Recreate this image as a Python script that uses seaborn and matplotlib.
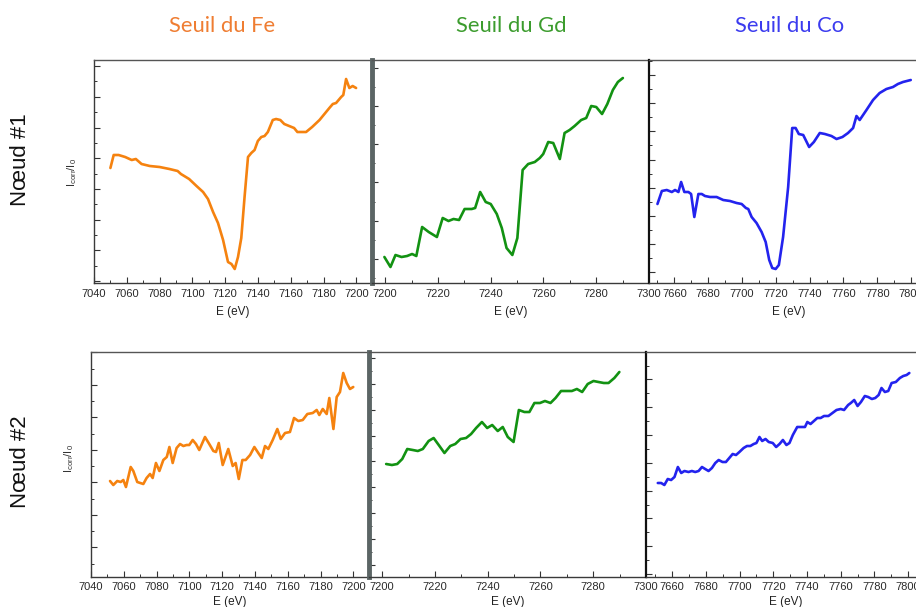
import numpy as np
import pandas as pd
import matplotlib
matplotlib.use("Agg")
import matplotlib.pyplot as plt
import seaborn as sns
from matplotlib import font_manager
from matplotlib.ticker import FixedLocator, MultipleLocator

# ---------------- data (intensity in arbitrary units) ----------------
col_titles = ["Seuil du Fe", "Seuil du Gd", "Seuil du Co"]
row_titles = ["N\u0153ud #1", "N\u0153ud #2"]

fe1_E = [7050, 7052, 7055, 7059, 7063, 7065.5, 7069, 7074, 7080, 7086,
         7091, 7093, 7098, 7102.5, 7106.5, 7109.5, 7112.6, 7115.6, 7118.7, 7121.7,
         7123.8, 7125.8, 7127.8, 7129.8, 7131.8, 7133.9, 7135.9, 7137.9, 7139.9, 7142,
         7144, 7146, 7149, 7151, 7153.6, 7156, 7159, 7162, 7164, 7169.3,
         7173, 7177.5, 7180.5, 7183.5, 7185.6, 7187.6, 7190.7, 7192, 7193.7, 7195.7,
         7197.7, 7199.8]
fe1_I = [115, 128, 128, 126, 123, 124, 119, 117, 116, 114,
         112, 109, 104, 97, 91, 84, 71, 60, 43, 21,
         19, 14, 26, 45, 86, 126, 130, 133, 142, 146,
         147, 151, 163, 164, 163, 159, 157, 155, 151, 151,
         156, 163, 169, 175, 179, 180, 186, 188, 204, 195,
         197, 195]

gd1_E = [7199.7, 7202, 7203.9, 7206.2, 7208.3, 7210.2, 7211.8, 7214, 7216.5, 7219.6,
         7221.8, 7224, 7225.9, 7228, 7230.1, 7232.8, 7234.1, 7236, 7238.1, 7240,
         7242.3, 7244.2, 7246, 7248.2, 7250.1, 7252.1, 7254.2, 7256.7, 7258.6, 7259.9,
         7261.8, 7263.7, 7266.2, 7268, 7269.9, 7271.8, 7274.3, 7276.2, 7278.1, 7280,
         7282.2, 7284.2, 7286.3, 7288.2, 7290.1]
gd1_I = [26, 16, 28, 26, 27, 29, 27, 56, 51, 46,
         65, 62, 64, 63, 74, 74, 75, 91, 81, 79,
         69, 55, 35, 28, 45, 113, 119, 121, 125, 129,
         141, 140, 124, 150, 153, 157, 163, 165, 177, 176,
         169, 179, 193, 201, 205]

co1_E = [7650, 7652.6, 7655.5, 7658.5, 7660.4, 7662.4, 7664, 7665.9, 7668.3, 7669.9,
         7671.8, 7674.2, 7676.2, 7678.1, 7681.1, 7685, 7688.9, 7692.9, 7696.8, 7699.8,
         7702.3, 7703.7, 7705.7, 7708.6, 7711.6, 7714, 7716.1, 7717.9, 7719.9, 7721.8,
         7724.3, 7727.3, 7729.7, 7731.7, 7733.6, 7736.2, 7739.7, 7742.5, 7746, 7749,
         7752.9, 7755.9, 7759.4, 7762.7, 7765.7, 7767.7, 7769.6, 7773.6, 7777.5, 7781.4,
         7785.4, 7789.3, 7792.2, 7795.2, 7799.8]
co1_I = [79, 92, 93, 91, 93, 91, 101, 91, 91, 89,
         66, 89, 89, 87, 86, 86, 83, 82, 80, 79,
         75, 74, 66, 60, 51, 41, 23, 15, 14, 18,
         46, 96, 155, 155, 149, 148, 136, 141, 150, 149,
         147, 144, 146, 150, 155, 167, 163, 173, 183, 190,
         194, 196, 199, 201, 203]

fe2_E = [7051.6, 7053.6, 7056, 7058.1, 7059.7, 7061.3, 7064.2, 7065.8, 7068.2, 7071.9,
         7073.9, 7076, 7077.6, 7079.6, 7081.7, 7084.1, 7086.2, 7087.8, 7089.8, 7092.2,
         7094.3, 7096.3, 7098.3, 7099.9, 7102, 7104, 7106, 7109.5, 7112.1, 7114.6,
         7116.2, 7117.9, 7120.3, 7123.7, 7126.4, 7128.2, 7130.1, 7132.3, 7134.3, 7137,
         7139.6, 7142, 7144.1, 7146.1, 7148.1, 7150.8, 7153.6, 7155.7, 7158.3, 7161.3,
         7163.8, 7166.4, 7169.1, 7171.9, 7175.2, 7177.6, 7179.2, 7181.3, 7183.7, 7185.3,
         7187.8, 7189.8, 7191.8, 7193.8, 7195.9, 7197.9, 7199.9]
fe2_I = [96, 92, 96, 95, 97, 90, 110, 106, 95, 93,
         99, 103, 99, 114, 106, 117, 120, 130, 114, 129,
         133, 131, 132, 132, 137, 133, 127, 140, 133, 126,
         125, 134, 112, 128, 111, 114, 98, 117, 117, 122,
         130, 124, 119, 131, 128, 137, 148, 138, 144, 145,
         159, 156, 157, 163, 164, 167, 162, 168, 163, 179,
         148, 180, 185, 204, 194, 188, 190]

gd2_E = [7201.5, 7203.7, 7205.7, 7207.6, 7209.5, 7211.6, 7213.5, 7215.4, 7217.6, 7219.5,
         7221.7, 7223.6, 7225.8, 7227.7, 7229.7, 7231.8, 7233.7, 7235.6, 7237.8, 7239.8,
         7241.7, 7243.8, 7245.7, 7247.6, 7249.8, 7251.8, 7253.9, 7255.8, 7257.7, 7259.8,
         7261.7, 7263.8, 7265.7, 7267.8, 7269.7, 7271.9, 7273.8, 7275.8, 7277.9, 7280.1,
         7282, 7284, 7285.8, 7288, 7289.9]
gd2_I = [113, 112, 113, 118, 128, 127, 126, 128, 136, 139,
         131, 124, 131, 133, 138, 139, 143, 149, 155, 149,
         152, 146, 150, 140, 135, 167, 165, 165, 174, 174,
         176, 174, 179, 186, 186, 186, 188, 185, 193, 196,
         195, 194, 194, 199, 205]

co2_E = [7651.5, 7653.5, 7655.4, 7657.4, 7659.4, 7661.4, 7663.4, 7665.4, 7667.3, 7669.7,
         7671.7, 7673.7, 7675.7, 7677.7, 7679.6, 7681.6, 7683.6, 7685.6, 7687.6, 7689.9,
         7691.9, 7693.9, 7695.9, 7697.9, 7699.9, 7702.4, 7704.4, 7706.4, 7708.4, 7710,
         7711.8, 7713.4, 7715.4, 7717.3, 7719.7, 7721.7, 7723.7, 7725.7, 7727.8, 7729.6,
         7731.6, 7734.2, 7737.2, 7738.8, 7740.2, 7742.1, 7744.1, 7746.1, 7748.1, 7750.1,
         7752.7, 7755.1, 7757.5, 7760, 7762, 7764.4, 7766, 7768, 7770, 7772,
         7774.3, 7776.3, 7778.5, 7780.5, 7782.5, 7784.2, 7786.2, 7788.2, 7790.2, 7792.7,
         7795.1, 7797.1, 7799.1, 7800.7]
co2_I = [94, 94, 92, 98, 97, 100, 110, 104, 106, 105,
         106, 105, 106, 110, 108, 106, 109, 114, 117, 115,
         115, 119, 123, 122, 125, 129, 131, 131, 133, 134,
         140, 136, 138, 135, 134, 130, 133, 137, 132, 134,
         142, 150, 150, 150, 155, 153, 156, 159, 159, 161,
         161, 164, 167, 168, 167, 172, 174, 177, 171, 175,
         181, 180, 178, 179, 182, 189, 185, 186, 194, 195,
         199, 201, 202, 204]

x_ticks_fe = [7040, 7060, 7080, 7100, 7120, 7140, 7160, 7180, 7200]
x_ticks_gd = [7200, 7220, 7240, 7260, 7280, 7300]
x_ticks_co = [7660, 7680, 7700, 7720, 7740, 7760, 7780, 7800]

# ---------------- style ----------------
sns.set_style("white")
plt.rcParams["font.family"] = ["Liberation Sans", "DejaVu Sans"]
plt.rcParams["mathtext.fontset"] = "custom"
plt.rcParams["mathtext.rm"] = "Liberation Sans"

names = {f.name for f in font_manager.fontManager.ttflist}
tick_family = "Liberation Sans Narrow" if "Liberation Sans Narrow" in names else "Liberation Sans"
title_family = ["Lato", "DejaVu Sans"] if "Lato" in names else ["DejaVu Sans"]

title_colors = ["#EF7D32", "#3C9C2E", "#3B3BEF"]
line_colors = ["#F5820F", "#129212", "#2323EE"]

W, H = 916, 607
fig = plt.figure(figsize=(W / 100, H / 100), dpi=100)
fig.patch.set_facecolor("white")


def px_axes(left, top, width, height):
    return fig.add_axes([left / W, 1 - (top + height) / H, width / W, height / H])


# geometry of each panel (pixels) and y tick grid (style only)
panels = [
    # row, col, E, I, xlim, xticks, rect(left, top, w, h), ytick start, ytick step
    (0, 0, fe1_E, fe1_I, (7040, 7209.5), x_ticks_fe, (94, 60, 278, 223), 2.0, 30.7),
    (0, 1, gd1_E, gd1_I, (7195, 7300), x_ticks_gd, (372, 60, 277, 223), 24.0, 38.3),
    (0, 2, co1_E, co1_I, (7645, 7810), x_ticks_co, (649, 60, 279, 223), 10.7, 28.2),
    (1, 0, fe2_E, fe2_I, (7040, 7209.5), x_ticks_fe, (91, 352, 278, 225), 29.7, 32.5),
    (1, 1, gd2_E, gd2_I, (7195, 7300), x_ticks_gd, (369, 352, 277, 225), 12.0, 25.9),
    (1, 2, co2_E, co2_I, (7644.5, 7810), x_ticks_co, (646, 352, 279, 225), 3.0, 27.8),
]

for row, col, E, I, xlim, xt, rect, y0, ystep in panels:
    ax = px_axes(*rect)
    ax.set_facecolor("white")
    df = pd.DataFrame({"E (eV)": E, "I": I})
    sns.lineplot(data=df, x="E (eV)", y="I", ax=ax, color=line_colors[col],
                 linewidth=1.9, estimator=None, sort=False, legend=False)
    h = rect[3]
    ax.set_xlim(*xlim)
    ax.set_ylim(0, h)
    ax.xaxis.set_major_locator(FixedLocator(xt))
    ax.xaxis.set_minor_locator(MultipleLocator(10))
    majors = np.arange(y0, h, ystep)
    minors = np.arange(y0 - ystep / 2, h, ystep)
    minors = minors[(minors > 0) & (minors < h)]
    ax.yaxis.set_major_locator(FixedLocator(majors))
    ax.yaxis.set_minor_locator(FixedLocator(minors))
    ax.tick_params(axis="both", which="major", direction="in", length=4.5, width=0.8,
                   color="#333333", bottom=True, left=True, top=False, right=False)
    ax.tick_params(axis="both", which="minor", direction="in", length=2.5, width=0.7,
                   color="#333333", bottom=True, left=True, top=False, right=False)
    ax.tick_params(axis="y", labelleft=False)
    ax.tick_params(axis="x", labelsize=8, labelcolor="#2a2a2a", pad=4 if row == 0 else 3.5)
    for lab in ax.get_xticklabels():
        lab.set_family(tick_family)
    ax.set_ylabel("")
    ax.set_xlabel("E (eV)", fontsize=8.5, color="#222222",
                  labelpad=5.5 if row == 0 else 3.0,
                  family=["Liberation Sans", "DejaVu Sans"])

    for s in ax.spines.values():
        s.set_visible(True)
        s.set_color("#3a3a3a")
        s.set_linewidth(1.0)
    ax.spines["top"].set_color("#555555")
    if col == 0:
        ax.spines["right"].set_visible(False)
    elif col == 1:
        ax.spines["left"].set_linewidth(3.5)
        ax.spines["left"].set_color("#5b6565")
        ax.spines["right"].set_visible(False)
    else:
        ax.spines["left"].set_linewidth(1.6)
        ax.spines["left"].set_color("#111111")

# column titles
for x, t, c in zip([222, 511, 790], col_titles, title_colors):
    fig.text(x / W, 1 - 32.3 / H, t, color=c, fontsize=15.8, family=title_family,
             ha="center", va="baseline")

# row titles
for y, t in zip([160, 462], row_titles):
    fig.text(21 / W, 1 - y / H, t, rotation=90, fontsize=16, color="#111111",
             ha="center", va="center", family=["Liberation Sans", "DejaVu Sans"])

# y labels
ylab = r"I$_{\mathregular{corr}}$/I$_{\mathregular{0}}$"
for x, y in zip([72, 69], [172, 458]):
    fig.text(x / W, 1 - y / H, ylab, rotation=90, fontsize=8, color="#333333",
             ha="center", va="center")

fig.savefig("out.png", dpi=100, facecolor="white")
